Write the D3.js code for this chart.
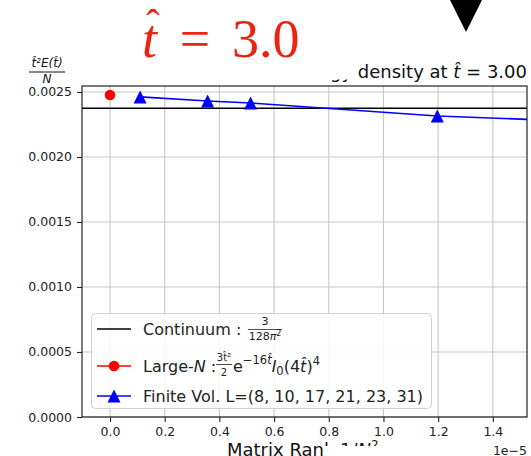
<!DOCTYPE html>
<html>
<head>
<meta charset="utf-8">
<script src="https://cdn.jsdelivr.net/npm/d3@7"></script>
<style>
  html, body { margin: 0; padding: 0; background: #fff; }
  svg { display: block; }
  text { font-family: "DejaVu Sans", sans-serif; }
</style>
</head>
<body>
<svg id="chart" width="531" height="456"></svg>
<script>
// Energy density t^2 E(t)/N at flow time t = 3.0, against 1/N^2 (units of 1e-5)
const xTicks = [0.0, 0.2, 0.4, 0.6, 0.8, 1.0, 1.2, 1.4];
const yTicks = [0.0000, 0.0005, 0.0010, 0.0015, 0.0020, 0.0025];

// Continuum value 3 / (128 pi^2)
const continuumValue = [3 / (128 * Math.PI * Math.PI)];

// Large-N point (at 1/N^2 = 0)
const largeNX = [0.0];
const largeNY = [0.002477];

// Finite volume results, L = 31, 23, 21, 17, 10
const finiteX = [0.110, 0.357, 0.514, 1.197, 10.0];
const finiteY = [0.002462, 0.002431, 0.002415, 0.002315, 0.00163];

const svg = d3.select("#chart");
const M = { left: 82, right: 527, top: 86, bottom: 417 };

const x = d3.scaleLinear().domain([-0.1025, 1.525]).range([M.left, M.right]);
const y = d3.scaleLinear().domain([0, 0.002546]).range([M.bottom, M.top]);

svg.append("defs").append("clipPath").attr("id", "plotClip")
  .append("rect").attr("x", M.left).attr("y", M.top)
  .attr("width", M.right - M.left).attr("height", M.bottom - M.top);

// Grid
const grid = svg.append("g");
grid.selectAll("line.gx").data(xTicks).join("line")
  .attr("x1", d => x(d)).attr("x2", d => x(d))
  .attr("y1", M.top).attr("y2", M.bottom)
  .attr("stroke", "#c8c8c8").attr("stroke-width", 1.1);
grid.selectAll("line.gy").data(yTicks).join("line")
  .attr("x1", M.left).attr("x2", M.right)
  .attr("y1", d => y(d)).attr("y2", d => y(d))
  .attr("stroke", "#c8c8c8").attr("stroke-width", 1.1);

const plot = svg.append("g").attr("clip-path", "url(#plotClip)");

// Continuum line
plot.selectAll("line.cont").data(continuumValue).join("line")
  .attr("x1", M.left).attr("x2", M.right)
  .attr("y1", d => y(d)).attr("y2", d => y(d))
  .attr("stroke", "#000").attr("stroke-width", 1.6);

// Finite volume line and markers
const finite = finiteX.map((v, i) => [v, finiteY[i]]);
plot.append("path").datum(finite)
  .attr("d", d3.line().x(d => x(d[0])).y(d => y(d[1])))
  .attr("fill", "none").attr("stroke", "#0000ff").attr("stroke-width", 1.6);

const tri = s => `M0,${-s}L${-s},${s}L${s},${s}Z`;
plot.selectAll("path.tri").data(finite).join("path")
  .attr("d", tri(6.5))
  .attr("transform", d => `translate(${x(d[0])},${y(d[1])})`)
  .attr("fill", "#0000ff");

// Large-N marker
plot.selectAll("circle.ln").data(largeNX.map((v, i) => [v, largeNY[i]])).join("circle")
  .attr("cx", d => x(d[0])).attr("cy", d => y(d[1])).attr("r", 5.3)
  .attr("fill", "#ff0000");

// Axes
const xAxis = d3.axisBottom(x).tickValues(xTicks).tickFormat(d3.format(".1f"))
  .tickSize(5).tickPadding(5);
const yAxis = d3.axisLeft(y).tickValues(yTicks).tickFormat(d3.format(".4f"))
  .tickSize(5).tickPadding(5);

const gx = svg.append("g").attr("transform", `translate(0,${M.bottom})`).call(xAxis);
const gy = svg.append("g").attr("transform", `translate(${M.left},0)`).call(yAxis);
[gx, gy].forEach(g => {
  g.select(".domain").remove();
  g.selectAll(".tick line").attr("stroke", "#222").attr("stroke-width", 1.1);
  g.selectAll(".tick text").attr("fill", "#222").style("font-size", "12.5px")
    .style("font-family", "DejaVu Sans");
});

// Spines
svg.append("rect").attr("x", M.left).attr("y", M.top)
  .attr("width", M.right - M.left).attr("height", M.bottom - M.top)
  .attr("fill", "none").attr("stroke", "#222").attr("stroke-width", 1.2);

// Legend
const lg = svg.append("g");
lg.append("rect").attr("x", 91.5).attr("y", 313.5).attr("width", 340).attr("height", 95)
  .attr("rx", 4).attr("fill", "#fff").attr("fill-opacity", 0.85)
  .attr("stroke", "#d0d0d0").attr("stroke-width", 1);

const rows = [
  { y: 329, color: "#000", marker: null },
  { y: 366, color: "#ff0000", marker: "circle" },
  { y: 396, color: "#0000ff", marker: "tri" }
];
rows.forEach(r => {
  lg.append("line").attr("x1", 97).attr("x2", 131).attr("y1", r.y).attr("y2", r.y)
    .attr("stroke", r.color).attr("stroke-width", 1.6);
  if (r.marker === "circle") {
    lg.append("circle").attr("cx", 114).attr("cy", r.y).attr("r", 5.3).attr("fill", r.color);
  } else if (r.marker === "tri") {
    lg.append("path").attr("d", tri(6.5)).attr("transform", `translate(114,${r.y})`).attr("fill", r.color);
  }
});

// Row 1: Continuum : 3 / (128 pi^2)
lg.append("text").attr("x", 143).attr("y", 335).style("font-size", "16px").attr("fill", "#222")
  .text("Continuum :");
lg.append("text").attr("x", 265).attr("y", 325).attr("text-anchor", "middle")
  .style("font-size", "11px").attr("fill", "#222").text("3");
lg.append("line").attr("x1", 248).attr("x2", 282).attr("y1", 329.5).attr("y2", 329.5)
  .attr("stroke", "#222").attr("stroke-width", 0.8);
const den = lg.append("text").attr("x", 265).attr("y", 340).attr("text-anchor", "middle")
  .style("font-size", "11px").attr("fill", "#222");
den.append("tspan").text("128");
den.append("tspan").style("font-style", "italic").text("π");
den.append("tspan").attr("dy", -4).style("font-size", "8px").text("2");

// Row 2: Large-N : 3t^2/2 e^{-16t} I0(4t)^4
const t2 = lg.append("text").attr("x", 143).attr("y", 372).style("font-size", "16px").attr("fill", "#222");
t2.append("tspan").text("Large-");
t2.append("tspan").style("font-style", "italic").text("N");
t2.append("tspan").text(" :");
lg.append("text").attr("x", 224).attr("y", 361).attr("text-anchor", "middle")
  .style("font-size", "10px").attr("fill", "#222").text("3t̂²");
lg.append("line").attr("x1", 216).attr("x2", 232).attr("y1", 364.5).attr("y2", 364.5)
  .attr("stroke", "#222").attr("stroke-width", 0.8);
lg.append("text").attr("x", 224).attr("y", 376).attr("text-anchor", "middle")
  .style("font-size", "10px").attr("fill", "#222").text("2");
const t2b = lg.append("text").attr("x", 233).attr("y", 372).style("font-size", "16px").attr("fill", "#222");
t2b.append("tspan").text("e");
t2b.append("tspan").attr("dy", -8).style("font-size", "11.5px").text("−16");
t2b.append("tspan").attr("dy", 0).style("font-size", "11.5px").style("font-style", "italic").text("t̂");
t2b.append("tspan").attr("dy", 8).style("font-style", "italic").text("I");
t2b.append("tspan").attr("dy", 3).style("font-size", "11.5px").text("0");
t2b.append("tspan").attr("dy", -3).text("(4");
t2b.append("tspan").style("font-style", "italic").text("t̂");
t2b.append("tspan").text(")");
t2b.append("tspan").attr("dy", -7).style("font-size", "11.5px").text("4");

// Row 3
lg.append("text").attr("x", 143).attr("y", 402).style("font-size", "16px").attr("fill", "#222")
  .text("Finite Vol. L=(8, 10, 17, 21, 23, 31)");

// Title (partly hidden behind the annotation box)
const tc = svg.select("defs").append("clipPath").attr("id", "titleClip");
tc.append("rect").attr("x", 352).attr("y", 0).attr("width", 200).attr("height", 90);
tc.append("rect").attr("x", 0).attr("y", 79.5).attr("width", 531).attr("height", 10);
const title = svg.append("text").attr("x", 527).attr("y", 78).attr("text-anchor", "end")
  .attr("clip-path", "url(#titleClip)")
  .style("font-size", "18px").attr("fill", "#111");
title.append("tspan").text("Energy density at ");
title.append("tspan").style("font-style", "italic").text("t̂");
title.append("tspan").text(" = 3.00");

// Y label as a fraction
svg.append("text").attr("x", 47).attr("y", 67).attr("text-anchor", "middle")
  .style("font-size", "12px").style("font-style", "italic").attr("fill", "#111")
  .text("t̂²E(t̂)");
svg.append("line").attr("x1", 29).attr("x2", 65).attr("y1", 72).attr("y2", 72)
  .attr("stroke", "#111").attr("stroke-width", 1);
svg.append("text").attr("x", 47).attr("y", 83).attr("text-anchor", "middle")
  .style("font-size", "12px").style("font-style", "italic").attr("fill", "#111").text("N");

// X label and offset
const xl = svg.append("text").attr("x", 227).attr("y", 456)
  .style("font-size", "18px").attr("fill", "#111");
xl.append("tspan").text("Matrix Rank 1/");
xl.append("tspan").style("font-style", "italic").text("N");
xl.append("tspan").attr("dy", -7).style("font-size", "12px").text("2");
svg.append("rect").attr("x", 323).attr("y", 446).attr("width", 80).attr("height", 12).attr("fill", "#fff");
svg.append("text").attr("x", 527).attr("y", 455).attr("text-anchor", "end")
  .style("font-size", "12.5px").attr("fill", "#222").text("1e−5");

// Flow-time annotation
const ann = svg.append("g").attr("fill", "#ee2211")
  .style("font-family", "'Liberation Serif', 'DejaVu Serif', serif");
ann.append("text").attr("x", 142).attr("y", 57).style("font-size", "54px")
  .style("font-style", "italic").style("font-family", "'Liberation Serif', serif").text("t");
ann.append("text").attr("x", 153).attr("y", 37).attr("text-anchor", "middle")
  .style("font-size", "40px").style("font-family", "'Liberation Serif', serif").text("ˆ");
ann.append("text").attr("x", 195).attr("y", 57).attr("text-anchor", "middle")
  .style("font-size", "54px").style("font-family", "'Liberation Serif', serif").text("=");
ann.append("text").attr("x", 232).attr("y", 57)
  .style("font-size", "54px").style("font-family", "'Liberation Serif', serif").text("3.0");

// Marker at the top edge
svg.append("path").attr("d", "M449,-2L483,-2L466,32Z").attr("fill", "#000");
</script>
</body>
</html>
